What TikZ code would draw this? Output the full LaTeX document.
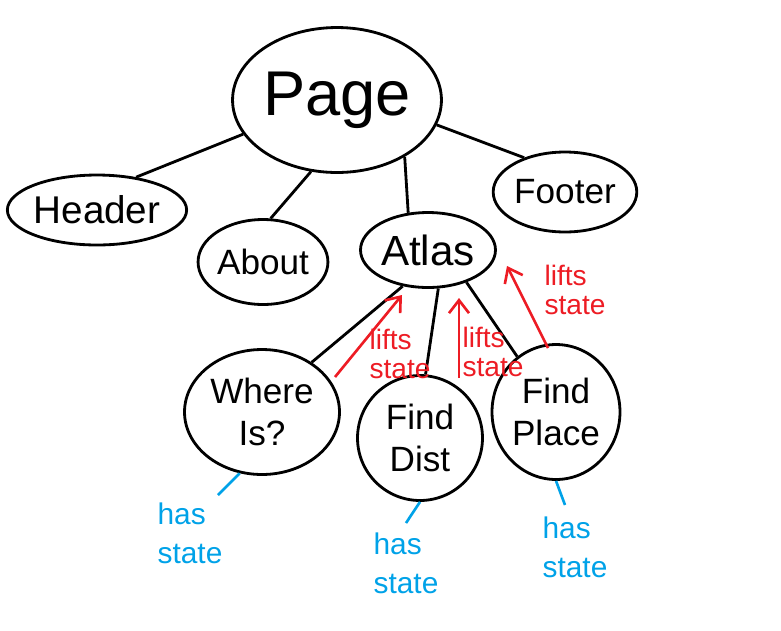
\documentclass[tikz,border=0pt]{standalone}
\usepackage{fontspec}
\setmainfont{Liberation Sans}
\usetikzlibrary{arrows.meta,shapes.geometric}
\definecolor{inkRed}{RGB}{237,28,36}
\definecolor{inkBlue}{RGB}{0,162,232}
\tikzset{
  comp/.style={ellipse, draw=black, line width=1.6pt, inner sep=0pt, align=center,
               font=\fontsize{20}{24}\selectfont},
  link/.style={line width=1.6pt, draw=black},
  lift/.style={-{Straight Barb[length=2.6mm, width=4mm]}, line width=1.5pt, draw=inkRed},
  liftnote/.style={align=left, text=inkRed, font=\fontsize{16}{17}\selectfont},
  owns/.style={line width=1.5pt, draw=inkBlue},
  ownnote/.style={align=left, text=inkBlue, font=\fontsize{17}{22}\selectfont}
}
\begin{document}
\begin{tikzpicture}[x=0.02cm, y=-0.02cm]
\useasboundingbox (0,0) rectangle (781,630);
% components
\node[comp, minimum width=4cm, minimum height=2.9cm, font=\fontsize{36}{40}\selectfont] (page) at (337,100) {Page};
\node[comp, minimum width=2.9cm, minimum height=1.4cm, font=\fontsize{22}{26}\selectfont] (header) at (97,210) {Header};
\node[comp, minimum width=2.3cm, minimum height=1.7cm] (about) at (263,262) {About};
\node[comp, minimum width=2.7cm, minimum height=1.5cm, font=\fontsize{24}{28}\selectfont] (atlas) at (428,250) {Atlas};
\node[comp, minimum width=2.3cm, minimum height=1.6cm] (footer) at (565,192) {Footer};
\node[comp, minimum width=3.1cm, minimum height=2.5cm] (whereis) at (262,412) {Where\\Is?};
\node[comp, minimum width=2.5cm, minimum height=2.5cm] (finddist) at (420,438) {Find\\Dist};
\node[comp, minimum width=2.56cm, minimum height=2.7cm] (findplace) at (556,412) {Find\\Place};
% tree
\draw[link] (page.200) -- (header.40);
\draw[link] (page.250) -- (about.80);
\draw[link] (page.-40) -- (atlas.118);
\draw[link] (page.-14) -- (footer.140);
\draw[link] (atlas.235) -- (whereis.45);
\draw[link] (atlas.-75) -- (finddist.85);
\draw[link] (atlas.-40) -- (findplace.125);
% state lifted up to Atlas
\coordinate (liftA0) at (335,377);
\coordinate (liftA1) at (402,295);
\coordinate (liftB0) at (459,378);
\coordinate (liftB1) at (459,298);
\coordinate (liftC0) at (548,348);
\coordinate (liftC1) at (507,266);
\draw[lift] (liftA0) -- (liftA1);
\draw[lift] (liftB0) -- (liftB1);
\draw[lift] (liftC0) -- (liftC1);
\node[liftnote] (noteA) at (400,354) {lifts\\state};
\node[liftnote] (noteB) at (493,352) {lifts\\state};
\node[liftnote] (noteC) at (575,290) {lifts\\state};
% local state
\node[ownnote] (hasW) at (190,533) {has\\state};
\node[ownnote] (hasD) at (406,563) {has\\state};
\node[ownnote] (hasP) at (575,547) {has\\state};
\coordinate (tickW) at (218,495);
\coordinate (tickD) at (406,523);
\coordinate (tickP) at (565,505);
\draw[owns] (whereis.-110) -- (tickW);
\draw[owns] (finddist.south) -- (tickD);
\draw[owns] (findplace.south) -- (tickP);
\end{tikzpicture}
\end{document}
